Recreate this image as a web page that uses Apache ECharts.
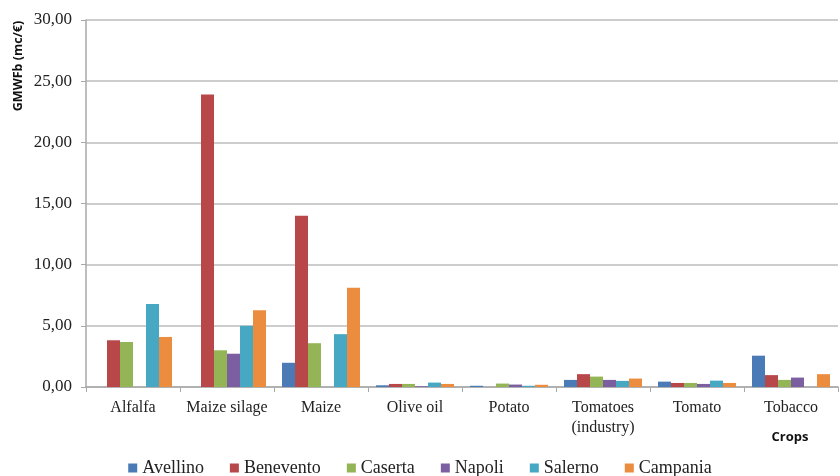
<!DOCTYPE html>
<html>
<head>
<meta charset="utf-8">
<script src="https://cdn.jsdelivr.net/npm/echarts@6/dist/echarts.min.js"></script>
<style>
  html, body { margin: 0; padding: 0; background: #ffffff; }
  #chart { width: 840px; height: 476px; }
</style>
</head>
<body>
<div id="chart"></div>
<script>
// Crop categories on the x axis
const crops = ['Alfalfa', 'Maize silage', 'Maize', 'Olive oil', 'Potato', 'Tomatoes\n(industry)', 'Tomato', 'Tobacco'];

// GMWFb values (mc/€) per province, one entry per crop
const avellino  = [0,    0,     1.98, 0.14, 0.10, 0.58, 0.44, 2.56];
const benevento = [3.82, 23.9,  14.0, 0.25, 0,    1.05, 0.33, 0.97];
const caserta   = [3.68, 3.00,  3.58, 0.25, 0.28, 0.85, 0.33, 0.58];
const napoli    = [0,    2.72,  0,    0.06, 0.20, 0.58, 0.25, 0.77];
const salerno   = [6.79, 5.00,  4.32, 0.36, 0.10, 0.50, 0.52, 0];
const campania  = [4.09, 6.27,  8.12, 0.25, 0.18, 0.69, 0.33, 1.05];

const seriesNames = ['Avellino', 'Benevento', 'Caserta', 'Napoli', 'Salerno', 'Campania'];
const seriesData = [avellino, benevento, caserta, napoli, salerno, campania];
const seriesColors = ['#4a7bb7', '#b8474a', '#93b555', '#7c5fa0', '#46a8c2', '#ec8c3f'];

const serif = '"Liberation Serif", "DejaVu Serif", serif';
const sans = '"Open Sans", "Noto Sans", sans-serif';

const chart = echarts.init(document.getElementById('chart'), null, { renderer: 'canvas' });

chart.setOption({
  animation: false,
  backgroundColor: '#ffffff',
  grid: { left: 86, right: 2, top: 20, bottom: 89 },
  legend: {
    data: seriesNames,
    left: 'center',
    top: 454,
    icon: 'rect',
    itemWidth: 9,
    itemHeight: 9,
    itemGap: 26,
    textStyle: { fontFamily: serif, fontSize: 18, color: '#222' }
  },
  xAxis: {
    type: 'category',
    data: crops,
    boundaryGap: true,
    axisLine: { lineStyle: { color: '#a8a8a8', width: 1.5 } },
    axisTick: { show: true, length: 5, lineStyle: { color: '#a8a8a8' } },
    axisLabel: {
      fontFamily: serif, fontSize: 16, color: '#222', margin: 11,
      lineHeight: 20, interval: 0
    }
  },
  yAxis: {
    type: 'value',
    min: 0,
    max: 30,
    interval: 5,
    axisLine: { show: true, lineStyle: { color: '#a8a8a8', width: 1.5 } },
    axisTick: { show: true, length: 5, lineStyle: { color: '#a8a8a8' } },
    splitLine: { lineStyle: { color: '#bdbdbd', width: 1.5 } },
    axisLabel: {
      fontFamily: serif, fontSize: 17, color: '#222', margin: 14,
      formatter: v => v.toFixed(2).replace('.', ',')
    }
  },
  graphic: [
    {
      type: 'text',
      x: 18, y: 66,
      rotation: Math.PI / 2,
      style: {
        text: 'GMWFb (mc/€)',
        font: 'bold 12.5px ' + sans,
        fill: '#111',
        textAlign: 'center',
        textVerticalAlign: 'middle'
      }
    },
    {
      type: 'text',
      x: 790, y: 437,
      style: {
        text: 'Crops',
        font: 'bold 13px ' + sans,
        fill: '#111',
        textAlign: 'center',
        textVerticalAlign: 'middle'
      }
    }
  ],
  series: seriesNames.map((name, i) => ({
    name: name,
    type: 'bar',
    data: seriesData[i],
    barGap: '0%',
    barCategoryGap: '17%',
    itemStyle: { color: seriesColors[i] }
  }))
});
</script>
</body>
</html>
